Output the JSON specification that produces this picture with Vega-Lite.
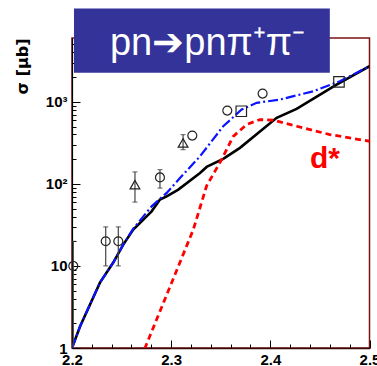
{
  "$schema": "https://vega.github.io/schema/vega-lite/v6.json",
  "width": 297.5,
  "height": 310,
  "autosize": "none",
  "padding": {"left": 72, "top": 38, "right": 7.5, "bottom": 18},
  "config": {
    "view": {"stroke": "#7a1212", "strokeWidth": 1.5},
    "font": "Liberation Sans"
  },
  "resolve": {"axis": {"x": "independent", "y": "independent"}},
  "datasets": {
    "curves": [
      {"model": "total", "x": 2.2, "y": 1.0},
      {"model": "total", "x": 2.2081, "y": 1.83},
      {"model": "total", "x": 2.2282, "y": 6.26},
      {"model": "total", "x": 2.2416, "y": 11.0},
      {"model": "total", "x": 2.2517, "y": 18.2},
      {"model": "total", "x": 2.2618, "y": 27.7},
      {"model": "total", "x": 2.2803, "y": 46.3},
      {"model": "total", "x": 2.2887, "y": 64.4},
      {"model": "total", "x": 2.2955, "y": 70.6},
      {"model": "total", "x": 2.3072, "y": 85.2},
      {"model": "total", "x": 2.3291, "y": 136},
      {"model": "total", "x": 2.3358, "y": 161},
      {"model": "total", "x": 2.3525, "y": 202},
      {"model": "total", "x": 2.3694, "y": 275},
      {"model": "total", "x": 2.4064, "y": 638},
      {"model": "total", "x": 2.4265, "y": 822},
      {"model": "total", "x": 2.4668, "y": 1625},
      {"model": "total", "x": 2.5, "y": 2717},
      {"model": "total alt", "x": 2.2, "y": 1.0},
      {"model": "total alt", "x": 2.2081, "y": 1.83},
      {"model": "total alt", "x": 2.2282, "y": 6.26},
      {"model": "total alt", "x": 2.2416, "y": 11.0},
      {"model": "total alt", "x": 2.2517, "y": 18.2},
      {"model": "total alt", "x": 2.2618, "y": 28.5},
      {"model": "total alt", "x": 2.2803, "y": 53.3},
      {"model": "total alt", "x": 2.2955, "y": 77.7},
      {"model": "total alt", "x": 2.3089, "y": 118},
      {"model": "total alt", "x": 2.3291, "y": 217},
      {"model": "total alt", "x": 2.3525, "y": 504},
      {"model": "total alt", "x": 2.3711, "y": 806},
      {"model": "total alt", "x": 2.3862, "y": 972},
      {"model": "total alt", "x": 2.4097, "y": 1067},
      {"model": "total alt", "x": 2.4433, "y": 1346},
      {"model": "total alt", "x": 2.4702, "y": 1783},
      {"model": "total alt", "x": 2.5, "y": 2717},
      {"model": "d*", "x": 2.27, "y": 0.75},
      {"model": "d*", "x": 2.2736, "y": 1.0},
      {"model": "d*", "x": 2.3223, "y": 27.7},
      {"model": "d*", "x": 2.3358, "y": 95},
      {"model": "d*", "x": 2.3509, "y": 198},
      {"model": "d*", "x": 2.3626, "y": 380},
      {"model": "d*", "x": 2.3761, "y": 529},
      {"model": "d*", "x": 2.3895, "y": 608},
      {"model": "d*", "x": 2.4029, "y": 597},
      {"model": "d*", "x": 2.4265, "y": 504},
      {"model": "d*", "x": 2.4601, "y": 399},
      {"model": "d*", "x": 2.5, "y": 331}
    ],
    "points": [
      {"set": "A", "x": 2.2013, "y": 10, "lo": 0.9, "hi": 20},
      {"set": "A", "x": 2.234, "y": 20, "lo": 10, "hi": 30},
      {"set": "A", "x": 2.2467, "y": 20, "lo": 10, "hi": 30},
      {"set": "B", "x": 2.2635, "y": 98, "lo": 60, "hi": 140},
      {"set": "A", "x": 2.2887, "y": 120, "lo": 89, "hi": 149},
      {"set": "B", "x": 2.312, "y": 316, "lo": 262, "hi": 399},
      {"set": "A", "x": 2.3213, "y": 388},
      {"set": "A", "x": 2.3566, "y": 783},
      {"set": "C", "x": 2.3707, "y": 768},
      {"set": "A", "x": 2.3922, "y": 1262},
      {"set": "C", "x": 2.4692, "y": 1754}
    ],
    "banner": [
      {"x1": 2.202, "x2": 2.46, "y1": 13740, "y2": 2259, "xt": 2.3366, "yt": 3724, "label": "pn➔pnπ⁺π⁻"}
    ],
    "tags": [
      {"x": 2.44, "y": 156.7, "label": "d*"}
    ]
  },
  "layer": [
    {
      "data": {"name": "curves"},
      "transform": [{"filter": "datum.model === 'total'"}],
      "mark": {"type": "line", "color": "#000000", "strokeWidth": 2.6, "clip": true},
      "encoding": {
        "x": {
          "field": "x", "type": "quantitative",
          "scale": {"domain": [2.2, 2.5], "nice": false, "zero": false},
          "axis": {
            "orient": "bottom", "title": null,
            "values": [2.2, 2.3, 2.4, 2.5],
            "format": ".1f",
            "labelFont": "Liberation Sans", "labelFontWeight": "bold", "labelFontSize": 15, "labelColor": "#000",
            "labelPadding": 12, "labelOverlap": false, "labelFlush": false, "labelBound": false,
            "tickSize": -8, "tickColor": "#000", "tickWidth": 1,
            "domainColor": "#3a0808", "domainWidth": 1.5,
            "grid": false
          }
        },
        "y": {
          "field": "y", "type": "quantitative",
          "scale": {"type": "log", "domain": [1, 6000], "nice": false},
          "axis": {
            "orient": "left",
            "title": "σ [μb]",
            "titleFont": "DejaVu Sans", "titleFontWeight": "bold", "titleFontSize": 16, "titleColor": "#000",
            "titleAngle": -90, "titleAlign": "right", "titleBaseline": "middle",
            "titleX": -50, "titleY": 0,
            "values": [1, 10, 100, 1000],
            "labelExpr": "datum.value == 1 ? '1' : datum.value == 10 ? '10' : datum.value == 100 ? '10²' : '10³'",
            "labelFont": "Liberation Sans", "labelFontWeight": "bold", "labelFontSize": 15, "labelColor": "#000",
            "labelPadding": 13, "labelOverlap": false, "labelFlush": false,
            "tickSize": -8, "tickColor": "#000", "tickWidth": 1,
            "domainColor": "#000", "domainWidth": 1.2,
            "grid": false
          }
        }
      }
    },
    {
      "data": {"name": "curves"},
      "transform": [{"filter": "datum.model === 'd*'"}],
      "mark": {"type": "line", "color": "#ff0000", "strokeWidth": 2.8, "strokeDash": [6, 4], "clip": true},
      "encoding": {
        "x": {
          "field": "x", "type": "quantitative",
          "axis": {
            "orient": "bottom", "title": null, "labels": false, "domain": false, "grid": false,
            "values": [2.22, 2.24, 2.26, 2.28, 2.32, 2.34, 2.36, 2.38, 2.42, 2.44, 2.46, 2.48],
            "tickSize": -4, "tickColor": "#000", "tickWidth": 1
          }
        },
        "y": {
          "field": "y", "type": "quantitative",
          "axis": {
            "orient": "left", "title": null, "labels": false, "domain": false, "grid": false,
            "values": [2, 3, 4, 5, 6, 7, 8, 9, 20, 30, 40, 50, 60, 70, 80, 90, 200, 300, 400, 500, 600, 700, 800, 900, 2000, 3000, 4000, 5000],
            "tickSize": -4, "tickColor": "#000", "tickWidth": 1
          }
        }
      }
    },
    {
      "mark": {"type": "rule", "color": "#444444", "strokeWidth": 1.2},
      "encoding": {
        "y": {"datum": 6000, "type": "quantitative", "axis": null}
      }
    },
    {
      "data": {"name": "curves"},
      "transform": [{"filter": "datum.model === 'total alt'"}],
      "mark": {"type": "line", "color": "#0a14ff", "strokeWidth": 2.2, "strokeDash": [10, 3, 2, 3], "clip": true},
      "encoding": {
        "x": {"field": "x", "type": "quantitative", "axis": null},
        "y": {"field": "y", "type": "quantitative", "axis": null}
      }
    },
    {
      "data": {"name": "points"},
      "transform": [{"filter": "isValid(datum.lo)"}],
      "mark": {"type": "rule", "color": "#444", "strokeWidth": 1.2, "clip": true},
      "encoding": {
        "x": {"field": "x", "type": "quantitative", "axis": null},
        "y": {"field": "lo", "type": "quantitative", "axis": null},
        "y2": {"field": "hi"}
      }
    },
    {
      "data": {"name": "points"},
      "transform": [{"filter": "isValid(datum.lo)"}],
      "mark": {"type": "tick", "orient": "horizontal", "color": "#444", "size": 5, "thickness": 1.2, "clip": true},
      "encoding": {
        "x": {"field": "x", "type": "quantitative", "axis": null},
        "y": {"field": "hi", "type": "quantitative", "axis": null}
      }
    },
    {
      "data": {"name": "points"},
      "transform": [{"filter": "isValid(datum.lo)"}],
      "mark": {"type": "tick", "orient": "horizontal", "color": "#444", "size": 5, "thickness": 1.2, "clip": true},
      "encoding": {
        "x": {"field": "x", "type": "quantitative", "axis": null},
        "y": {"field": "lo", "type": "quantitative", "axis": null}
      }
    },
    {
      "data": {"name": "points"},
      "mark": {"type": "point", "filled": false, "stroke": "#222", "strokeWidth": 1.2, "opacity": 1},
      "encoding": {
        "x": {"field": "x", "type": "quantitative", "axis": null},
        "y": {"field": "y", "type": "quantitative", "axis": null},
        "shape": {"field": "set", "type": "nominal", "scale": {"domain": ["A", "B", "C"], "range": ["circle", "triangle-up", "square"]}, "legend": null},
        "size": {"field": "set", "type": "nominal", "scale": {"domain": ["A", "B", "C"], "range": [80, 110, 85]}, "legend": null}
      }
    },
    {
      "data": {"name": "banner"},
      "mark": {"type": "rect", "color": "#333399", "opacity": 1},
      "encoding": {
        "x": {"field": "x1", "type": "quantitative", "axis": null},
        "x2": {"field": "x2"},
        "y": {"field": "y1", "type": "quantitative", "axis": null},
        "y2": {"field": "y2"}
      }
    },
    {
      "data": {"name": "banner"},
      "mark": {"type": "text", "color": "#ffffff", "font": "Liberation Sans", "fontSize": 38, "align": "center", "baseline": "alphabetic"},
      "encoding": {
        "x": {"field": "xt", "type": "quantitative", "axis": null},
        "y": {"field": "yt", "type": "quantitative", "axis": null},
        "text": {"field": "label"}
      }
    },
    {
      "data": {"name": "tags"},
      "mark": {"type": "text", "color": "#ff0000", "font": "Liberation Sans", "fontWeight": "bold", "fontSize": 30, "align": "left", "baseline": "alphabetic"},
      "encoding": {
        "x": {"field": "x", "type": "quantitative", "axis": null},
        "y": {"field": "y", "type": "quantitative", "axis": null},
        "text": {"field": "label"}
      }
    }
  ]
}
